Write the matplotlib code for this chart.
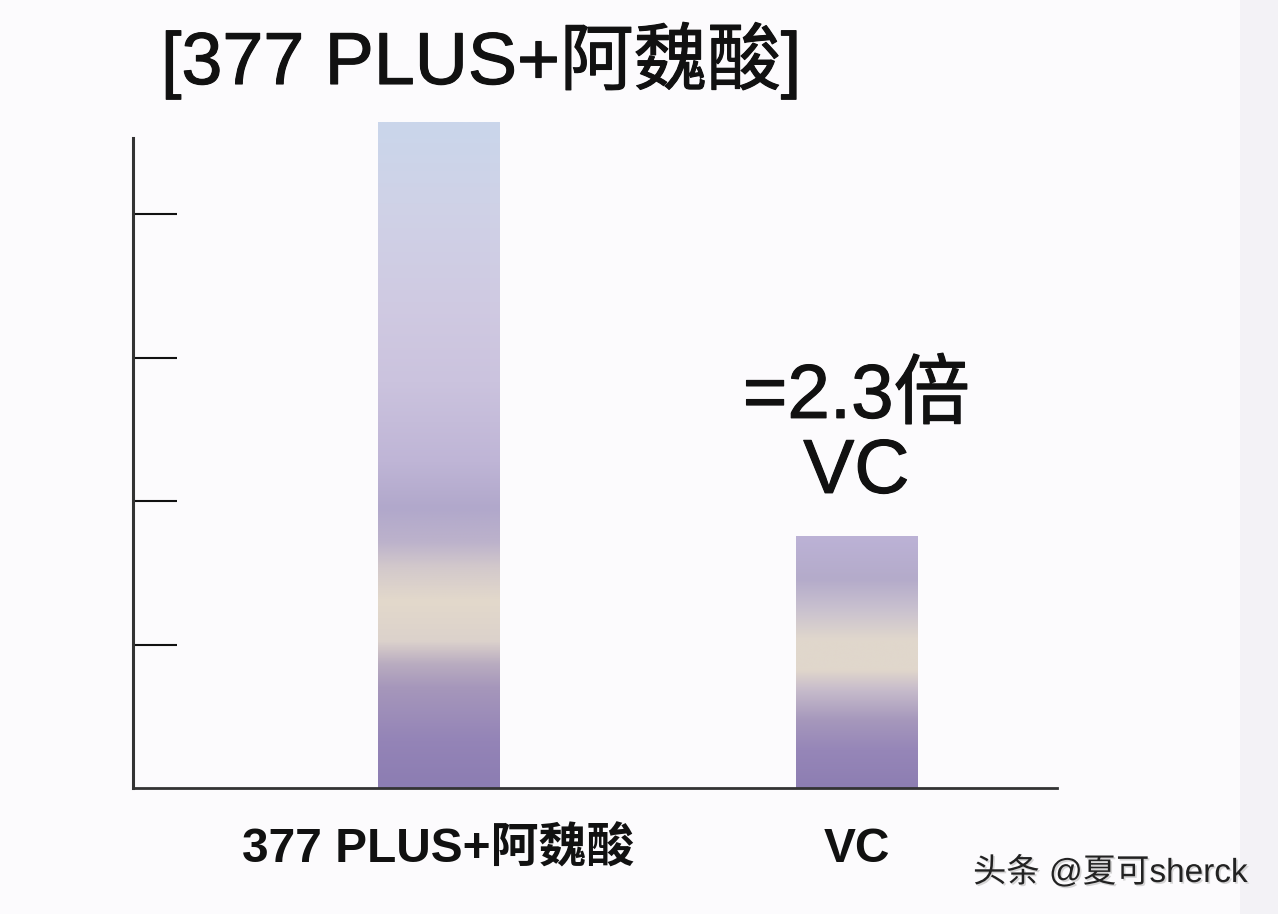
import numpy as np
import matplotlib
matplotlib.use("Agg")
import matplotlib.pyplot as plt
from matplotlib.colors import LinearSegmentedColormap
from matplotlib.patches import Rectangle
import matplotlib.patheffects as pe

# ---- data ----
categories = ["377 PLUS+阿魏酸", "VC"]
values = [4.64, 1.75]
ytick_values = [1, 2, 3, 4]
title_text = "[377 PLUS+阿魏酸]"
annot_lines = ["=2.3倍", "VC"]
watermark = "头条 @夏可sherck"

# gradient stops (fraction from bar bottom, colour)
grad_bar1 = [(0.00, "#8c7db2"), (0.07, "#9484b7"), (0.15, "#a697bb"),
             (0.185, "#b9acc0"), (0.22, "#dcd2cc"), (0.28, "#e3d9cb"),
             (0.33, "#d3c9cb"), (0.37, "#bcb2cb"), (0.42, "#b1a8cb"),
             (0.49, "#bfb5d6"), (0.61, "#cbc3de"), (0.73, "#d0cae2"),
             (0.88, "#cfd2e7"), (1.00, "#cad6eb")]
grad_bar2 = [(0.00, "#8d7eb2"), (0.15, "#9686b8"), (0.27, "#a698bc"),
             (0.39, "#c7bccb"), (0.47, "#e1d7cc"), (0.59, "#e0d7cc"),
             (0.71, "#c9c1cf"), (0.83, "#b4abca"), (1.00, "#bcb2d6")]
gradients = [grad_bar1, grad_bar2]

FAM = ["Liberation Sans", "Noto Sans CJK SC", "DejaVu Sans"]
plt.rcParams["font.family"] = FAM

W, H = 1278, 914
fig = plt.figure(figsize=(W / 100, H / 100), dpi=100, facecolor="#fcfbfd")
fig.patches.append(Rectangle((1240 / W, 0), (W - 1240) / W, 1, transform=fig.transFigure,
                             facecolor="#f3f2f6", edgecolor="none", zorder=0))

ax = fig.add_axes([133 / W, (H - 788) / H, (1057 - 133) / W, (788 - 138) / H])
ax.set_facecolor("none")

x = np.arange(len(categories))
bars = ax.bar(x, values, width=0.29, color="none", edgecolor="none", clip_on=False)

for bar, stops in zip(bars, gradients):
    cmap = LinearSegmentedColormap.from_list("g", stops)
    grad = np.linspace(0, 1, 512).reshape(-1, 1)
    x0, w, h = bar.get_x(), bar.get_width(), bar.get_height()
    im = ax.imshow(grad, cmap=cmap, origin="lower", aspect="auto",
                   extent=[x0, x0 + w, 0, h], interpolation="bicubic", zorder=2)
    im.set_clip_on(False)

ax.set_xlim(-0.731, 1.48)
ax.set_ylim(0, 4.53)

for side in ["top", "right"]:
    ax.spines[side].set_visible(False)
ax.spines["left"].set_linewidth(2.2)
ax.spines["left"].set_color("#333333")
ax.spines["bottom"].set_linewidth(2.0)
ax.spines["bottom"].set_color("#333333")
ax.spines["left"].set_zorder(3)
ax.spines["bottom"].set_zorder(3)

ax.set_yticks(ytick_values)
ax.tick_params(axis="y", direction="in", length=32, width=1.5, color="#111111",
               labelleft=False)
ax.set_xticks(x, categories)
ax.tick_params(axis="x", length=0, pad=28, labelsize=34.5)
for lab in ax.get_xticklabels():
    lab.set_fontweight("bold")
    lab.set_color("#111111")

medium = [pe.withStroke(linewidth=0.8, foreground="#111111")]

# annotation above VC bar
vc_i = 1
ax.annotate(annot_lines[1], xy=(x[vc_i], values[vc_i]), xytext=(0, 31.7),
            textcoords="offset points", ha="center", va="baseline",
            fontsize=55, color="#111111", annotation_clip=False, path_effects=medium)
ax.annotate(annot_lines[0], xy=(x[vc_i], values[vc_i]), xytext=(0, 85.7),
            textcoords="offset points", ha="center", va="baseline",
            fontsize=55, color="#111111", annotation_clip=False, path_effects=medium)

fig.text(161 / W, (H - 84) / H, title_text, fontsize=53, color="#111111",
         ha="left", va="baseline", path_effects=medium)

fig.text(973 / W, (H - 882) / H, watermark, fontsize=24, color="#222222",
         ha="left", va="baseline",
         path_effects=[pe.withSimplePatchShadow(offset=(1.2, -1.2), shadow_rgbFace="#bbbbbb", alpha=0.6)])

fig.savefig("out.png", dpi=100, facecolor=fig.get_facecolor())
